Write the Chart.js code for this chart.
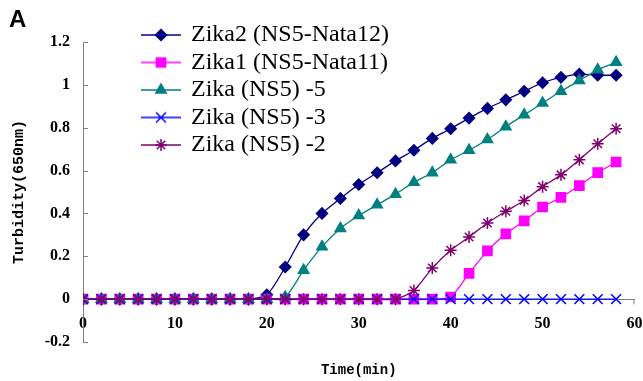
<!DOCTYPE html>
<html>
<head>
<meta charset="utf-8">
<script src="https://cdn.jsdelivr.net/npm/chart.js@4.4.0/dist/chart.umd.min.js"></script>
<style>
    html, body { margin: 0; padding: 0; background: #fff; }
    canvas { display: block; }
</style>
</head>
<body>
<canvas id="myChart" width="643" height="381"></canvas>
<script>
// time in minutes, one reading every 2 min
const times = [0, 2, 4, 6, 8, 10, 12, 14, 16, 18, 20, 22, 24, 26, 28, 30, 32, 34, 36, 38, 40, 42, 44, 46, 48, 50, 52, 54, 56, 58]

const zika2 = [0, 0, 0, 0, 0, 0, 0, 0, 0, 0, 0.02, 0.15, 0.30, 0.40, 0.47, 0.535, 0.59, 0.645, 0.695, 0.75, 0.795, 0.845, 0.89, 0.93, 0.97, 1.01, 1.035, 1.05, 1.045, 1.045]
const zika1 = [0, 0, 0, 0, 0, 0, 0, 0, 0, 0, 0, 0, 0, 0, 0, 0, 0, 0, 0, 0, 0.01, 0.12, 0.225, 0.305, 0.365, 0.43, 0.475, 0.53, 0.59, 0.64]
const ns5_5 = [0, 0, 0, 0, 0, 0, 0, 0, 0, 0, 0, 0.01, 0.135, 0.245, 0.33, 0.39, 0.44, 0.49, 0.545, 0.59, 0.65, 0.695, 0.745, 0.805, 0.86, 0.915, 0.97, 1.02, 1.07, 1.105]
const ns5_3 = [0, 0, 0, 0, 0, 0, 0, 0, 0, 0, 0, 0, 0, 0, 0, 0, 0, 0, 0, 0, 0, 0, 0, 0, 0, 0, 0, 0, 0, 0]
const ns5_2 = [0, 0, 0, 0, 0, 0, 0, 0, 0, 0, 0, 0, 0, 0, 0, 0, 0, 0, 0.04, 0.145, 0.228, 0.29, 0.355, 0.41, 0.46, 0.525, 0.58, 0.65, 0.725, 0.795]

const seriesNames = ['Zika2 (NS5-Nata12)', 'Zika1 (NS5-Nata11)', 'Zika (NS5) -5', 'Zika (NS5) -3', 'Zika (NS5) -2']

const xTicks = [0, 10, 20, 30, 40, 50, 60]
const yTicks = [-0.2, 0, 0.2, 0.4, 0.6, 0.8, 1, 1.2]

Chart.defaults.font.family = 'Liberation Mono'
Chart.defaults.color = '#000'

// little line + marker sample for the legend
function legendIcon(color, style, radius) {
    const c = document.createElement('canvas')
    c.width = 40
    c.height = 16
    const g = c.getContext('2d')
    g.strokeStyle = color
    g.fillStyle = color
    g.lineWidth = 1.3
    g.beginPath()
    g.moveTo(0, 8)
    g.lineTo(40, 8)
    g.stroke()
    g.lineWidth = 1.5
    Chart.helpers.drawPoint(g, { pointStyle: style, radius: radius, borderWidth: 1.5, rotation: 0 }, 20, 8)
    return c
}

// later series are painted on top (like excel), order = weight
function line(label, data, color, style, radius, order) {
    return {
        label: label,
        data: data,
        order: order,
        borderColor: color,
        backgroundColor: color,
        pointBorderColor: color,
        pointBackgroundColor: color,
        borderWidth: 1.3,
        pointStyle: style,
        pointRadius: radius,
        pointBorderWidth: 1.5,
        tension: 0.25,
        icon: legendIcon(color, style, radius)
    }
}

// ticks that point into the plot, like the original
const axisTicks = {
    id: 'axisTicks',
    afterDraw(chart) {
        const { ctx, scales: { x, y } } = chart
        ctx.save()
        ctx.strokeStyle = '#808080'
        ctx.lineWidth = 1
        ctx.beginPath()
        y.ticks.forEach(t => {
            const py = Math.round(y.getPixelForValue(t.value)) + 0.5
            ctx.moveTo(x.left, py)
            ctx.lineTo(x.left + 5, py)
        })
        const y0 = Math.round(y.getPixelForValue(0)) + 0.5
        ctx.moveTo(x.right - 0.5, y0)
        ctx.lineTo(x.right - 0.5, y0 + 5)
        ctx.stroke()
        ctx.restore()
    }
}

// legend floats over the top-left of the plot
const moveLegend = {
    id: 'moveLegend',
    afterLayout(chart) {
        const lg = chart.legend
        lg.left = 139.5
        lg.top = 19.5
        lg.right = 470
        lg.bottom = 330
    }
}

let myChart = document.getElementById('myChart').getContext('2d')

const lineChart = new Chart(myChart, {
    type: 'line',
    data: {
        labels: times,
        datasets: [
            line(seriesNames[0], zika2, '#000080', 'rectRot', 5.5, 5),
            line(seriesNames[1], zika1, '#ff00ff', 'rect', 6.5, 4),
            line(seriesNames[2], ns5_5, '#008080', 'triangle', 6, 3),
            line(seriesNames[3], ns5_3, '#0000ff', 'crossRot', 7, 2),
            line(seriesNames[4], ns5_2, '#800070', 'star', 6, 1)
        ]
    },
    plugins: [axisTicks, moveLegend],
    options: {
        responsive: false,
        animation: false,
        layout: {
            padding: { left: 9, right: 8, top: 0, bottom: 39 }
        },
        scales: {
            x: {
                type: 'linear',
                min: 0,
                max: 60,
                position: { y: 0 },
                afterBuildTicks: s => { s.ticks = xTicks.map(v => ({ value: v })) },
                afterFit: s => {
                    s.height = 83.4
                    s.paddingLeft = 0
                    s.paddingRight = 0
                },
                grid: { display: false, drawTicks: false },
                border: { display: true, color: '#808080', width: 1 },
                ticks: {
                    padding: 15,
                    maxRotation: 0,
                    font: { family: 'Liberation Serif', size: 16, weight: 'bold' }
                },
                title: {
                    display: true,
                    text: 'Time(min)',
                    font: { size: 14, weight: 'bold' },
                    padding: { top: 4, bottom: 4 }
                }
            },
            y: {
                min: -0.2,
                max: 1.2,
                afterBuildTicks: s => { s.ticks = yTicks.map(v => ({ value: v })) },
                afterFit: s => { s.width = 74 },
                grid: { display: false, drawTicks: false },
                border: { display: true, color: '#808080', width: 1 },
                ticks: {
                    padding: 13,
                    callback: v => String(v),
                    font: { family: 'Liberation Serif', size: 16, weight: 'bold' }
                },
                title: {
                    display: true,
                    text: 'Turbidity(650nm)',
                    font: { size: 15, weight: 'bold' },
                    padding: { top: 1, bottom: 0 }
                }
            }
        },
        plugins: {
            title: {
                display: true,
                text: 'A',
                align: 'start',
                font: { family: 'Liberation Sans', size: 24, weight: 'bold', lineHeight: 1.2 },
                padding: { top: 6, bottom: 7.2 }
            },
            legend: {
                position: 'chartArea',
                align: 'start',
                labels: {
                    usePointStyle: true,
                    pointStyleWidth: 36,
                    padding: 3.5,
                    color: '#000',
                    font: { family: 'Liberation Serif', size: 24 },
                    sort: (a, b) => a.datasetIndex - b.datasetIndex,
                    generateLabels: chart => {
                        let items = Chart.defaults.plugins.legend.labels.generateLabels(chart)
                        return items.map(it => {
                            it.pointStyle = chart.data.datasets[it.datasetIndex].icon
                            return it
                        })
                    }
                }
            },
            tooltip: { enabled: false }
        }
    }
})
</script>
</body>
</html>
